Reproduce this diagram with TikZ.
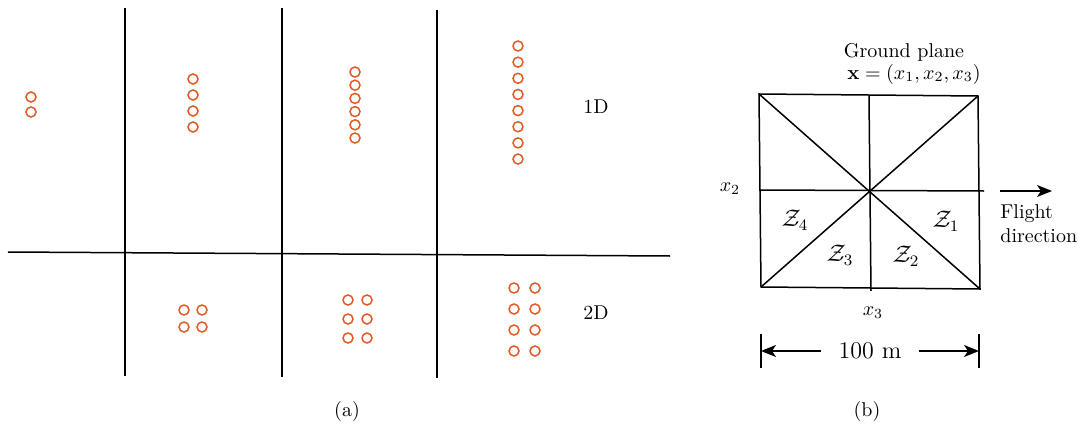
\documentclass[tikz,border=0pt]{standalone}
\usepackage{amsmath,amssymb}
\usepackage{tikz}
\usetikzlibrary{arrows.meta,positioning,calc}
\definecolor{pin}{RGB}{226,90,36}
\tikzset{
  ln/.style={line width=0.75pt},
  dot/.style={draw=pin,line width=0.75pt},
  arr/.style={-{Stealth[length=7.5pt,width=6pt,inset=2pt]},line width=0.75pt},
  lbl/.style={inner sep=1pt},
  zone/.style={inner sep=1pt,font=\large},
}

\begin{document}
\begin{tikzpicture}[x=0.5pt,y=-0.5pt]
 \useasboundingbox (0,0) rectangle (1083,428);
 % (a) grid of slots
 \coordinate (hl) at (8,252); \coordinate (hr) at (670,256);
 \draw[ln] (hl)--(hr);
 \foreach \x/\t/\b in {125/8/376,282/8/377,437/10/378}
  \draw[ln] (\x,\t)--(\x,\b);
 % 1D
 \foreach \y in {97,112} \draw[dot] (31,\y) circle[radius=2.5pt];
 \foreach \i in {0,...,3} \draw[dot] ({193},{79+16*\i}) circle[radius=2.5pt];
 \foreach \i in {0,...,5} \draw[dot] ({355},{72+13.2*\i}) circle[radius=2.5pt];
 \foreach \i in {0,...,7} \draw[dot] ({518},{46+16.15*\i}) circle[radius=2.5pt];
 % 2D
 \foreach \x in {184,202} \foreach \y in {310,327} \draw[dot] (\x,\y) circle[radius=2.5pt];
 \foreach \x in {348,367} \foreach \i in {0,...,2} \draw[dot] ({\x},{300+19*\i}) circle[radius=2.5pt];
 \foreach \x in {514,535} \foreach \i in {0,...,3} \draw[dot] ({\x},{288+21*\i}) circle[radius=2.5pt];
 \node[lbl] (l1d) at (596,107) {1D};
 \node[lbl] (l2d) at (596,313) {2D};
 \node[lbl] (capa) at (347,411) {(a)};
 % (b) ground plane
 \coordinate (tl) at (759,94); \coordinate (tr) at (978,96);
 \coordinate (br) at (980,289); \coordinate (bl) at (761,287);
 \draw[ln] (tl)--(tr)--(br)--(bl)--cycle;
 \draw[ln] (tl)--(br) (tr)--(bl);
 \draw[ln] (869,96)--(871,291);
 \draw[ln] (759,190)--(984,191);
 \node[lbl] (gp) at (904,52) {Ground plane};
 \node[lbl] (gx) at (914,74) {$\mathbf{x}=(x_1,x_2,x_3)$};
 \node[lbl] (x2) at (730,189) {$x_2$};
 \node[lbl] (x3) at (873,313) {$x_3$};
 \node[zone] (z4) at (795,220) {$\mathcal{Z}_4$};
 \node[zone] (z3) at (840,255) {$\mathcal{Z}_3$};
 \node[zone] (z2) at (906,256) {$\mathcal{Z}_2$};
 \node[zone] (z1) at (946,221) {$\mathcal{Z}_1$};
 \coordinate (fs) at (1000,191); \coordinate (fe) at (1052,191);
 \draw[arr] (fs)--(fe);
 \node[lbl,align=left,anchor=north west] (fd) at (998,202) {Flight\\direction};
 \node[lbl] (capb) at (867,411) {(b)};
 % dimension
 \coordinate (dl) at (761,351); \coordinate (dr) at (979,351);
 \draw[ln] ([yshift=-8.5pt]dl)--([yshift=8.5pt]dl) ([yshift=-8.5pt]dr)--([yshift=8.5pt]dr);
 \node[font=\large,inner xsep=8.5pt,inner ysep=1pt] (dim) at (870,351) {100 m};
 \draw[arr] (dim.west)--(dl);
 \draw[arr] (dim.east)--(dr);
\end{tikzpicture}
\end{document}
